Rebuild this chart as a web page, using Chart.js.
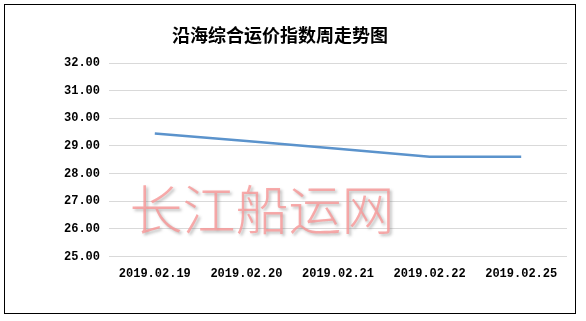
<!DOCTYPE html>
<html>
<head>
<meta charset="utf-8">
<script src="https://cdn.jsdelivr.net/npm/chart.js@4"></script>
<style>
  html, body { margin: 0; padding: 0; background: #fff; }
  #wrap { position: relative; width: 586px; height: 321px; }
  #frame { position: absolute; left: 4px; top: 4px; width: 572px; height: 310px; border: 1.5px solid #000; box-sizing: border-box; pointer-events: none; }
</style>
</head>
<body>
<div id="wrap">
  <canvas id="linechart" width="586" height="321"></canvas>
  <div id="frame"></div>
</div>
<script>
const chartTitle = '沿海综合运价指数周走势图';
const watermark = '长江船运网';
const dates = ['2019.02.19', '2019.02.20', '2019.02.21', '2019.02.22', '2019.02.25'];
const indexValues = [29.45, 29.18, 28.90, 28.61, 28.61];
const yMin = 25;
const yMax = 32;

// title + watermark drawn on the canvas
const decorPlugin = {
    id: 'decor',
    afterDraw(chart) {
        const ctx = chart.ctx;
        ctx.save();
        ctx.fillStyle = '#000';
        ctx.font = 'bold 18px "Noto Sans CJK SC"';
        ctx.textAlign = 'center';
        ctx.textBaseline = 'middle';
        ctx.fillText(chartTitle, 280, 35);

        ctx.font = '300 53px "Noto Sans CJK SC"';
        ctx.shadowColor = 'rgba(120,120,120,0.6)';
        ctx.shadowBlur = 3;
        ctx.shadowOffsetX = 2;
        ctx.shadowOffsetY = 2;
        ctx.fillStyle = 'rgba(248,150,150,0.8)';
        ctx.fillText(watermark, 262, 210);
        ctx.restore();
    }
};

const ctx = document.getElementById('linechart').getContext('2d');
const myChart = new Chart(ctx, {
    type: 'line',
    data: {
        labels: dates,
        datasets: [{
            label: chartTitle,
            data: indexValues,
            borderColor: '#5B93CC',
            borderWidth: 2.5,
            pointRadius: 0,
            tension: 0,
            fill: false
        }]
    },
    plugins: [decorPlugin],
    options: {
        responsive: false,
        animation: false,
        layout: {
            padding: { top: 63, right: 19, bottom: 38, left: 0 }
        },
        plugins: {
            legend: { display: false },
            tooltip: { enabled: false }
        },
        scales: {
            x: {
                offset: true,
                grid: { display: false },
                border: { display: false },
                ticks: {
                    color: '#000',
                    padding: 2,
                    maxRotation: 0,
                    font: { family: '"Liberation Mono"', size: 12, weight: 'bold' }
                }
            },
            y: {
                min: yMin,
                max: yMax,
                afterFit(scale) { scale.width = 109; },
                grid: { color: '#D9D9D9', lineWidth: 1, drawTicks: false },
                border: { display: false },
                ticks: {
                    stepSize: 1,
                    color: '#000',
                    padding: 9,
                    font: { family: '"Liberation Mono"', size: 12, weight: 'bold' },
                    callback: (v) => v.toFixed(2)
                }
            }
        }
    }
});
</script>
</body>
</html>
